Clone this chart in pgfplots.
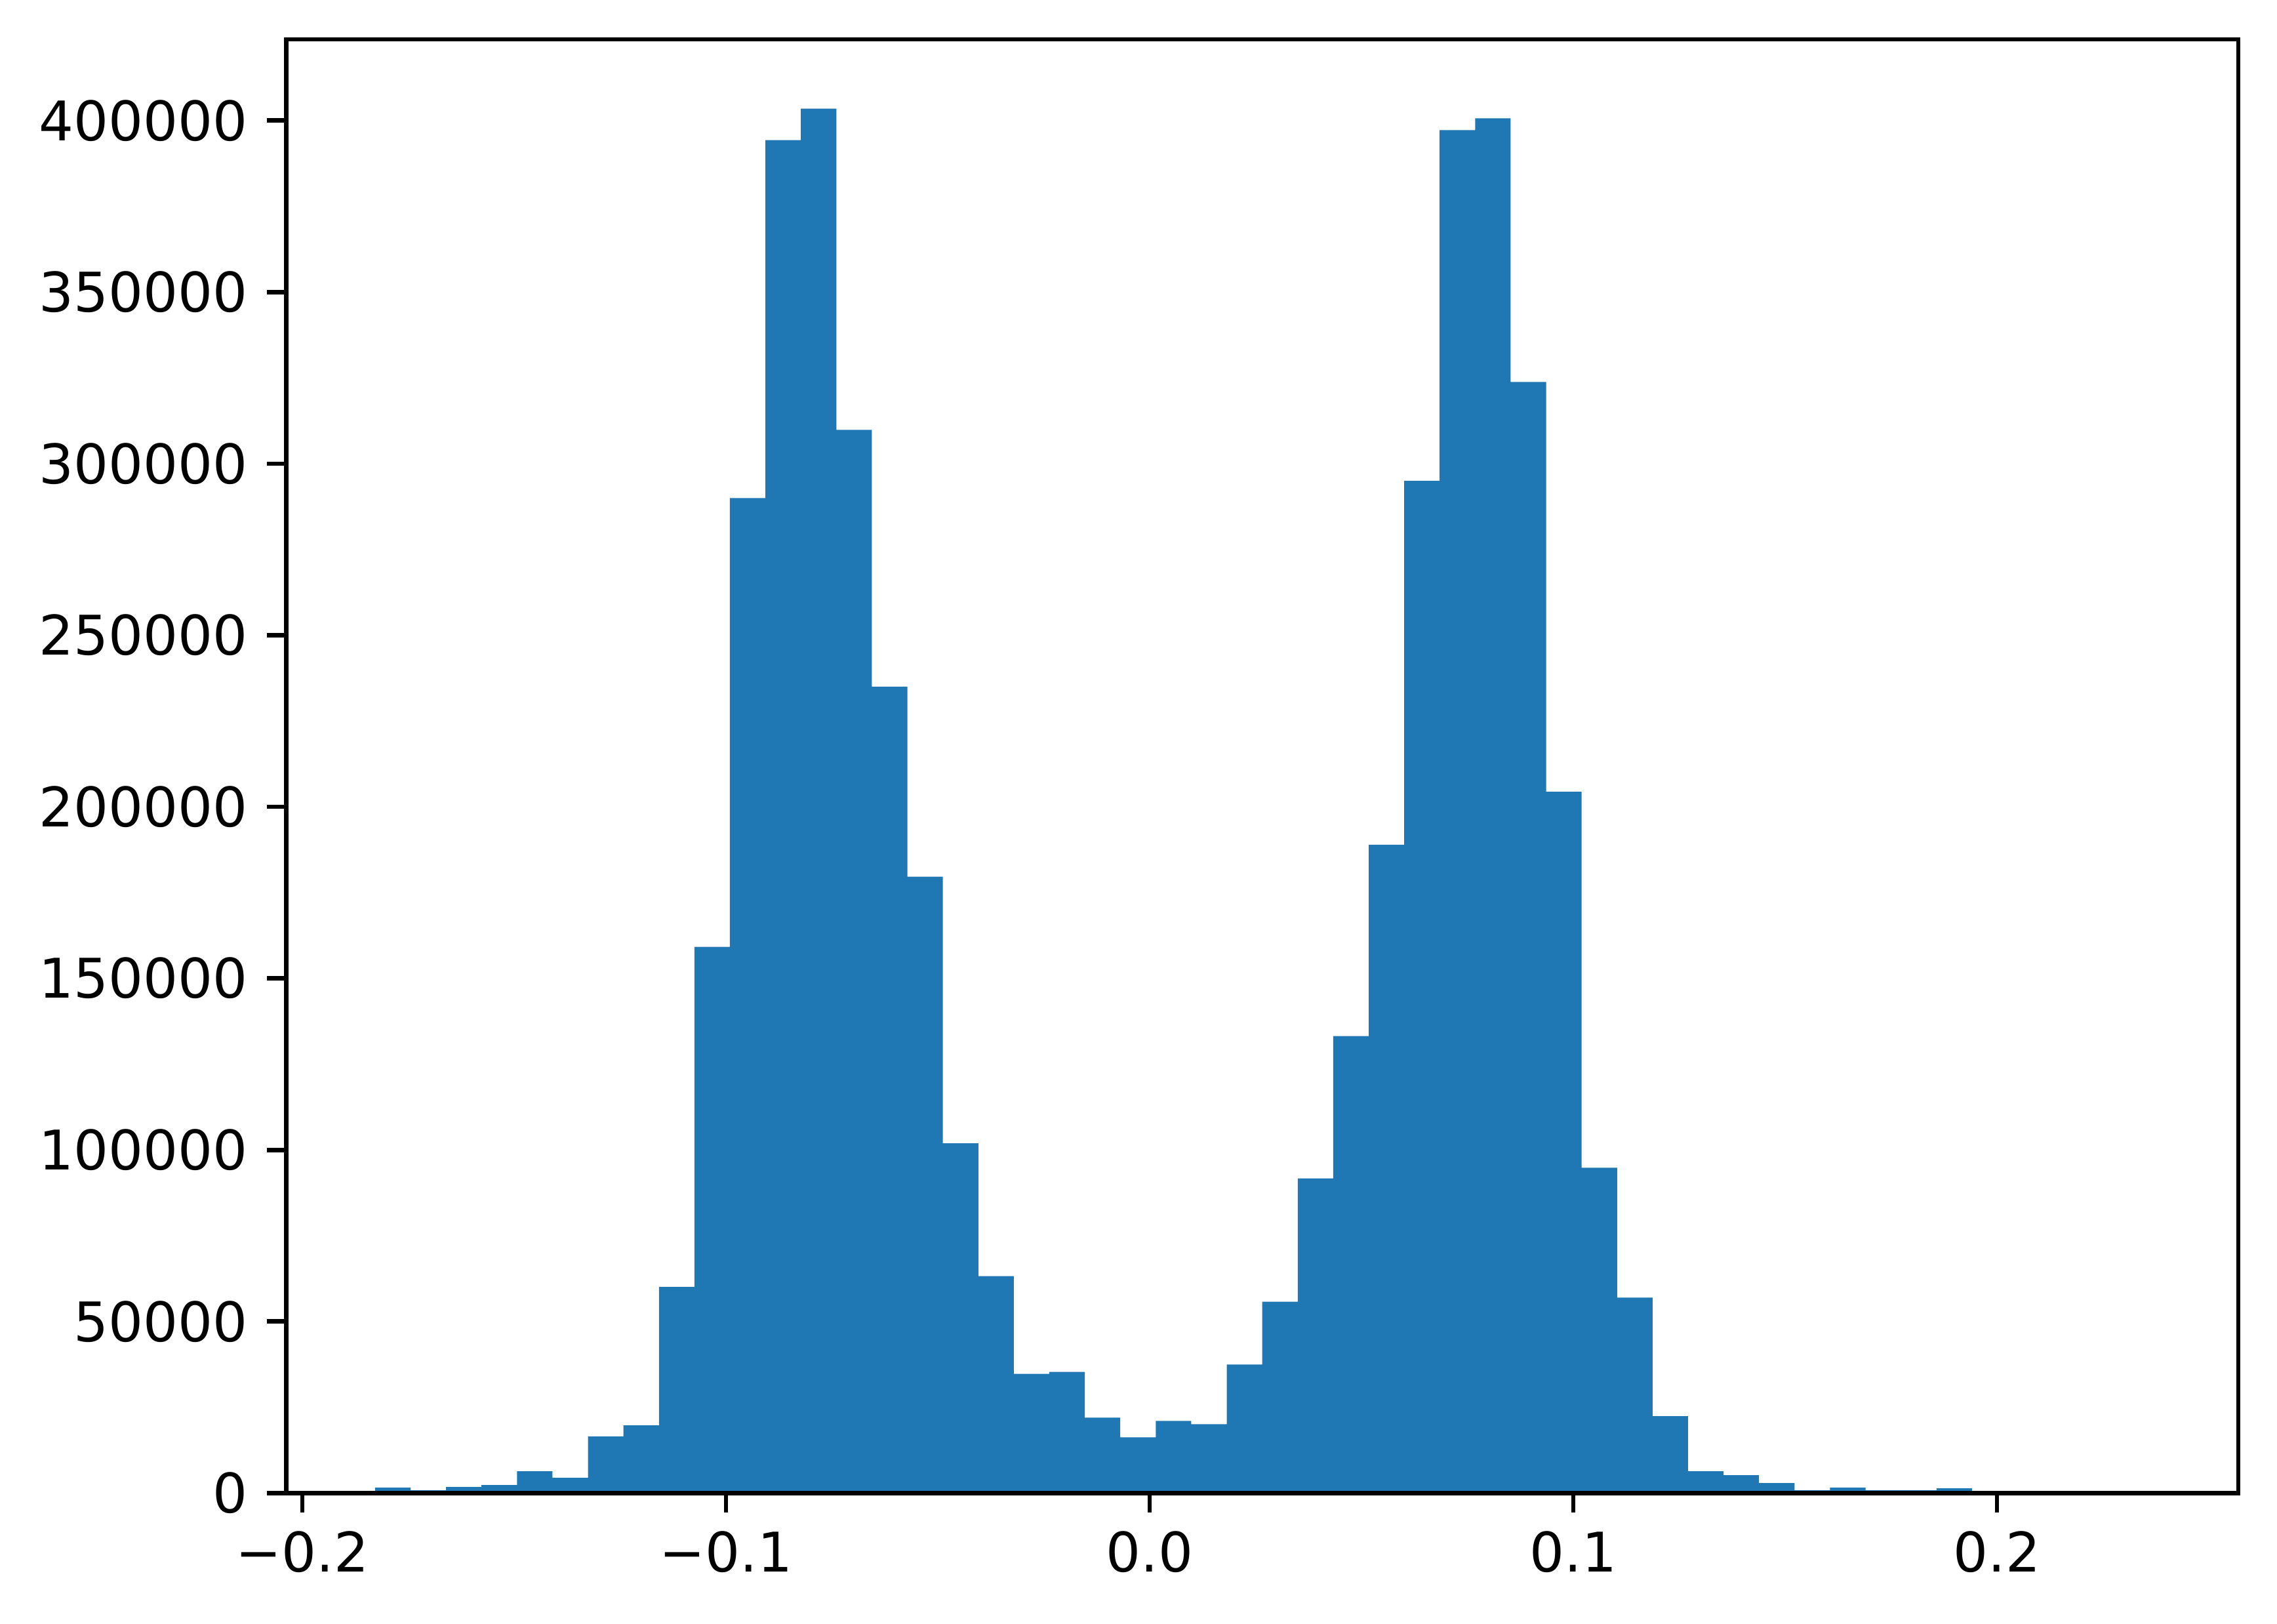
\documentclass[border=0pt]{standalone}
\usepackage{fontspec}
\setmainfont{DejaVu Sans}
\usepackage{pgfplots}
\usepackage{pgfplotstable}
\pgfplotsset{compat=1.18}
\definecolor{tabblue}{HTML}{1F77B4}

% bin left edges and counts (last row closes the final interval)
\pgfplotstableread{
edge count
-0.18283 1590
-0.17445 830
-0.16608 1780
-0.15770 2360
-0.14933 6370
-0.14095 4460
-0.13257 16490
-0.12420 19740
-0.11582 60040
-0.10745 159160
-0.09907 289980
-0.09069 394270
-0.08232 403470
-0.07394 309860
-0.06557 235000
-0.05719 179620
-0.04881 101910
-0.04044 63230
-0.03206 34760
-0.02369 35330
-0.01531 21970
-0.00693 16240
0.00144 21010
0.00982 20055
0.01819 37440
0.02657 55770
0.03495 91720
0.04332 133180
0.05170 188940
0.06007 294980
0.06845 397170
0.07683 400610
0.08520 323780
0.09358 204390
0.10195 94810
0.11033 56950
0.11871 22410
0.12708 6370
0.13546 5220
0.14383 2930
0.15221 830
0.16059 1590
0.16896 830
0.17734 830
0.18571 1400
0.19409 0
0.20247 0
0.21084 0
0.21922 0
0.22759 600
0.23597 600
}\histdata

\begin{document}
\begin{tikzpicture}
\begin{axis}[
    at={(0,0)}, anchor=south west,
    scale only axis,
    width=357.2pt, height=266.0pt,
    xmin=-0.20377, xmax=0.25694,
    ymin=0, ymax=423640,
    xtick={-0.2,-0.1,0,0.1,0.2},
    xticklabels={−0.2,−0.1,0.0,0.1,0.2},
    ytick={0,50000,100000,150000,200000,250000,300000,350000,400000},
    yticklabels={0,50000,100000,150000,200000,250000,300000,350000,400000},
    scaled ticks=false,
    tick pos=left,
    tick align=outside,
    major tick length=3.5pt,
    tick style={black, line width=0.8pt},
    axis line style={line width=0.8pt},
    ticklabel style={font=\fontsize{10}{12}\selectfont},
    axis on top,
]
\addplot[ybar interval, fill=tabblue, draw=none] table[x=edge, y=count] {\histdata};
\end{axis}
\pgfresetboundingbox
\path[use as bounding box] (-52.4pt,-23.9pt) rectangle (364.3pt,273.2pt);
\end{tikzpicture}
\end{document}
